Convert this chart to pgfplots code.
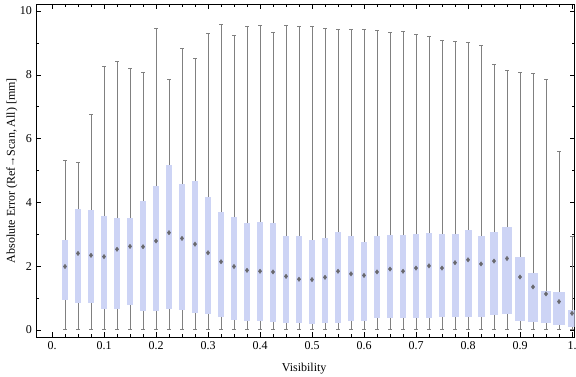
\documentclass[border=0pt]{standalone}
\usepackage{pgfplots}
\pgfplotsset{compat=1.18}
\usepgfplotslibrary{statistics}
\usepackage{fontspec}
\setmainfont{Liberation Serif}
\definecolor{boxfill}{RGB}{205,212,245}
\definecolor{whiskgray}{RGB}{128,128,128}
\definecolor{medgray}{RGB}{105,105,110}
\newcommand{\bx}[7]{\addplot[boxplot prepared={draw position=#1, lower whisker=#2, lower quartile=#3, median=#4, upper quartile=#5, upper whisker=#6, box extend=#7/520, whisker extend=0.0065}] coordinates {};}
\begin{document}
\fontsize{12}{14}\selectfont
\begin{tikzpicture}
\useasboundingbox (-36pt,-39.7pt) rectangle (540pt,337.3pt);
\begin{axis}[
  at={(0pt,0pt)}, anchor=south west,
  scale only axis, width=538.5pt, height=333.3pt,
  xmin=-0.0308, xmax=1.0048, ymin=-0.23, ymax=10.22,
  xtick={0,0.1,0.2,0.3,0.4,0.5,0.6,0.7,0.8,0.9,1},
  xticklabels={0.,0.1,0.2,0.3,0.4,0.5,0.6,0.7,0.8,0.9,1.},
  minor x tick num=3,
  ytick={0,2,4,6,8,10}, yticklabels={0,2,4,6,8,10},
  minor y tick num=1,
  tick align=inside, major tick length=5pt, minor tick length=3pt,
  tick style={black, line width=0.6pt},
  axis line style={line width=0.8pt},
  xlabel={Visibility},
  xlabel style={at={(axis description cs:0.498,-0.095)}, anchor=center},
  ylabel={Absolute Error (Ref{\fontsize{11}{12}\selectfont→}Scan, All) [mm]},
  ylabel style={at={(axis description cs:-0.0446,0.5)}, anchor=center, rotate=0},
  boxplot/draw direction=y,
  boxplot/every box/.style={draw=none, fill=boxfill},
  boxplot/every whisker/.style={draw=whiskgray, line width=1pt},
  boxplot/draw/median/.code={},
]
\bx{0.025}{0.02}{0.94}{1.99}{2.82}{5.31}{5.5}
\bx{0.05}{0}{0.86}{2.40}{3.78}{5.26}{6.5}
\bx{0.075}{0}{0.84}{2.34}{3.76}{6.76}{6.5}
\bx{0.1}{0}{0.67}{2.30}{3.57}{8.25}{6.5}
\bx{0.125}{0}{0.65}{2.53}{3.51}{8.42}{6.2}
\bx{0.15}{0}{0.79}{2.62}{3.51}{8.20}{6.2}
\bx{0.175}{0}{0.61}{2.61}{4.04}{8.08}{6.2}
\bx{0.2}{0}{0.61}{2.79}{4.51}{9.46}{6.2}
\bx{0.225}{0}{0.67}{3.05}{5.17}{7.84}{6.2}
\bx{0.25}{0}{0.64}{2.87}{4.58}{8.83}{6.2}
\bx{0.275}{0}{0.54}{2.69}{4.67}{8.51}{6.2}
\bx{0.3}{0}{0.51}{2.42}{4.17}{9.30}{6.2}
\bx{0.325}{0}{0.42}{2.14}{3.70}{9.58}{6.2}
\bx{0.35}{0}{0.32}{1.99}{3.54}{9.24}{6.2}
\bx{0.375}{0}{0.29}{1.87}{3.34}{9.53}{6.2}
\bx{0.4}{0}{0.28}{1.84}{3.39}{9.56}{6.2}
\bx{0.425}{0}{0.26}{1.82}{3.35}{9.33}{6.2}
\bx{0.45}{0}{0.23}{1.68}{2.95}{9.56}{5.2}
\bx{0.475}{0}{0.21}{1.59}{2.95}{9.50}{5.2}
\bx{0.5}{0}{0.18}{1.58}{2.82}{9.50}{5.2}
\bx{0.525}{0}{0.21}{1.65}{2.89}{9.46}{5.2}
\bx{0.55}{0}{0.23}{1.84}{3.07}{9.43}{5.2}
\bx{0.575}{0}{0.29}{1.76}{2.95}{9.43}{5.2}
\bx{0.6}{0}{0.29}{1.71}{2.76}{9.43}{5.2}
\bx{0.625}{0}{0.39}{1.82}{2.95}{9.39}{6}
\bx{0.65}{0}{0.39}{1.91}{2.98}{9.33}{6}
\bx{0.675}{0}{0.36}{1.84}{2.98}{9.36}{6}
\bx{0.7}{0}{0.39}{1.94}{3.01}{9.25}{6}
\bx{0.725}{0}{0.39}{2.01}{3.04}{9.21}{6}
\bx{0.75}{0}{0.42}{1.94}{3.01}{9.08}{6}
\bx{0.775}{0}{0.42}{2.11}{3.01}{9.05}{7}
\bx{0.8}{0}{0.42}{2.20}{3.13}{9.02}{7}
\bx{0.825}{0}{0.42}{2.07}{2.95}{8.92}{7}
\bx{0.85}{0}{0.48}{2.16}{3.07}{8.31}{8}
\bx{0.875}{0}{0.51}{2.24}{3.23}{8.14}{10}
\bx{0.9}{0}{0.29}{1.66}{2.29}{8.08}{10}
\bx{0.925}{0}{0.26}{1.35}{1.79}{8.05}{10}
\bx{0.95}{0}{0.23}{1.13}{1.22}{7.86}{10}
\bx{0.975}{0}{0.17}{0.89}{1.19}{5.60}{12}
\bx{1.0}{0}{0.10}{0.52}{0.63}{2.94}{8}
\addplot[only marks, mark=diamond*, mark size=2.2pt, color=medgray] coordinates {
(0.025,1.99) (0.05,2.40) (0.075,2.34) (0.1,2.30) (0.125,2.53) (0.15,2.62) (0.175,2.61) (0.2,2.79)
(0.225,3.05) (0.25,2.87) (0.275,2.69) (0.3,2.42) (0.325,2.14) (0.35,1.99) (0.375,1.87) (0.4,1.84)
(0.425,1.82) (0.45,1.68) (0.475,1.59) (0.5,1.58) (0.525,1.65) (0.55,1.84) (0.575,1.76) (0.6,1.71)
(0.625,1.82) (0.65,1.91) (0.675,1.84) (0.7,1.94) (0.725,2.01) (0.75,1.94) (0.775,2.11) (0.8,2.20)
(0.825,2.07) (0.85,2.16) (0.875,2.24) (0.9,1.66) (0.925,1.35) (0.95,1.13) (0.975,0.89) (1.0,0.52)
};
\end{axis}
\end{tikzpicture}
\end{document}
